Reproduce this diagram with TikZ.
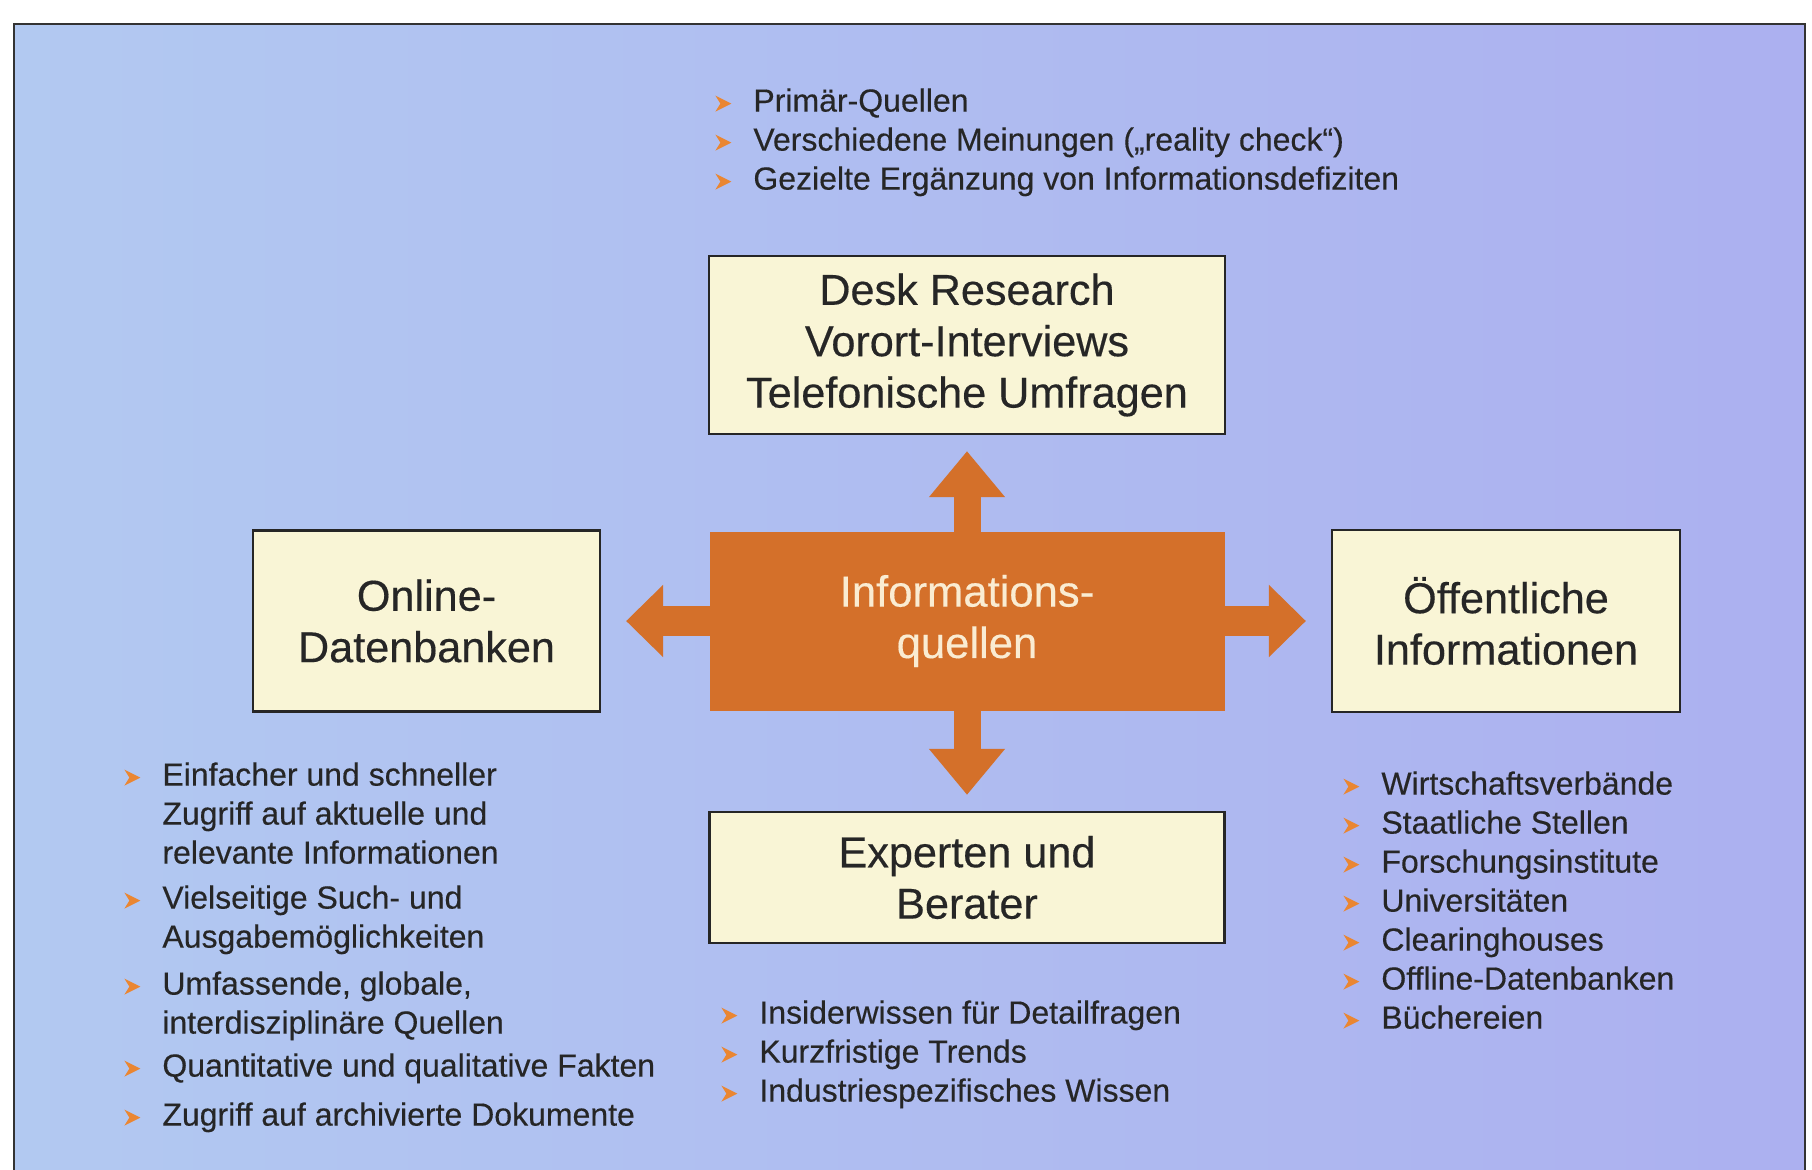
\documentclass[tikz,border=0pt]{standalone}
\usepackage{fontspec}
\setmainfont{Liberation Sans}[FakeBold=0.35]
\usetikzlibrary{positioning,arrows.meta}

\definecolor{hgblau}{RGB}{178,201,241}
\definecolor{hglila}{RGB}{172,176,240}
\definecolor{kasten}{RGB}{249,245,214}
\definecolor{orange1}{RGB}{212,112,42}
\definecolor{pfeilfarbe}{RGB}{234,134,50}
\definecolor{schrift}{RGB}{250,236,210}

% small orange arrowhead in front of each list item
\newcommand{\pfeil}{\llap{\tikz[baseline=-4pt]\fill[pfeilfarbe] (0pt,0pt) -- (-8pt,4pt) -- (-5.5pt,0pt) -- (-8pt,-4pt) -- cycle;\hspace{11pt}}}

\begin{document}
\begin{tikzpicture}[
    x = 0.5pt, % one unit per pixel
    y = -0.5pt, % y runs downwards
    node distance = 48pt and 54pt, % gaps around the centre box
    font = \fontsize{16}{19.5}\selectfont,
    text = black!85
  ]

  \tikzstyle{kasten}=[rectangle, draw=black!85, line width=1.1pt, fill=kasten, align=center, inner sep=0pt, font=\fontsize{21.6}{25.7}\selectfont]
  \tikzstyle{liste}=[anchor=north west, align=left, inner sep=0pt]
  \tikzstyle{pfeilv}=[draw=orange1, line width=13.5pt, -{Triangle[width=36.5pt,length=23pt]}]
  \tikzstyle{pfeilh}=[draw=orange1, line width=15pt, -{Triangle[width=35pt,length=18.5pt]}]

  \useasboundingbox (0,0) rectangle (1812,1169);
  \clip (0,0) rectangle (1812,1169);

  % background panel
  \shade[left color=hgblau, right color=hglila] (14,24) rectangle (1805,1200);
  \draw[black!80, line width=1.3pt] (14,1200) -- (14,24) -- (1805,24) -- (1805,1200);

  \node[rectangle, fill=orange1, text=schrift, align=center, inner sep=0pt,
        minimum width=257.5pt, minimum height=89.5pt,
        font=\fontsize{21.8}{25.7}\selectfont] (info) at (967,621) {Informations-\\quellen};
  \node[kasten, minimum width=258pt, minimum height=89pt] (desk) [above=of info]
    {Desk Research\\Vorort-Interviews\\Telefonische Umfragen};
  \node[kasten, minimum width=173.5pt, minimum height=90.5pt] (online) [left=of info]
    {Online-\\Datenbanken};
  \node[kasten, minimum width=174pt, minimum height=91pt] (oeff) [right=53pt of info]
    {Öffentliche\\Informationen};
  \node[kasten, minimum width=257.5pt, minimum height=65.5pt] (experten) [below=50pt of info]
    {Experten und\\Berater};

  \draw[pfeilv, shorten <=-2pt, shorten >=8pt] (info.north) -- (info.north |- desk.south);
  \draw[pfeilv, shorten <=-2pt, shorten >=8pt] (info.south) -- (info.south |- experten.north);
  \draw[pfeilh, shorten <=-2pt, shorten >=12.5pt] (info.west) -- (info.west -| online.east);
  \draw[pfeilh, shorten <=-2pt, shorten >=12.5pt] (info.east) -- (info.east -| oeff.west);

  \node[liste] (l-desk) at (753,88) {%
    \pfeil Primär-Quellen\\
    \pfeil Verschiedene Meinungen („reality check“)\\
    \pfeil Gezielte Ergänzung von Informationsdefiziten};

  \node[liste] (l-online) at (162,762) {%
    \pfeil Einfacher und schneller\\
    Zugriff auf aktuelle und\\
    relevante Informationen\\[3pt]
    \pfeil Vielseitige Such- und\\
    Ausgabemöglichkeiten\\[4pt]
    \pfeil Umfassende, globale,\\
    interdisziplinäre Quellen\\[2pt]
    \pfeil Quantitative und qualitative Fakten\\[5pt]
    \pfeil Zugriff auf archivierte Dokumente};

  \node[liste] (l-experten) at (759,1000) {%
    \pfeil Insiderwissen für Detailfragen\\
    \pfeil Kurzfristige Trends\\
    \pfeil Industriespezifisches Wissen};

  \node[liste] (l-oeff) at (1381,771) {%
    \pfeil Wirtschaftsverbände\\
    \pfeil Staatliche Stellen\\
    \pfeil Forschungsinstitute\\
    \pfeil Universitäten\\
    \pfeil Clearinghouses\\
    \pfeil Offline-Datenbanken\\
    \pfeil Büchereien};

\end{tikzpicture}
\end{document}
